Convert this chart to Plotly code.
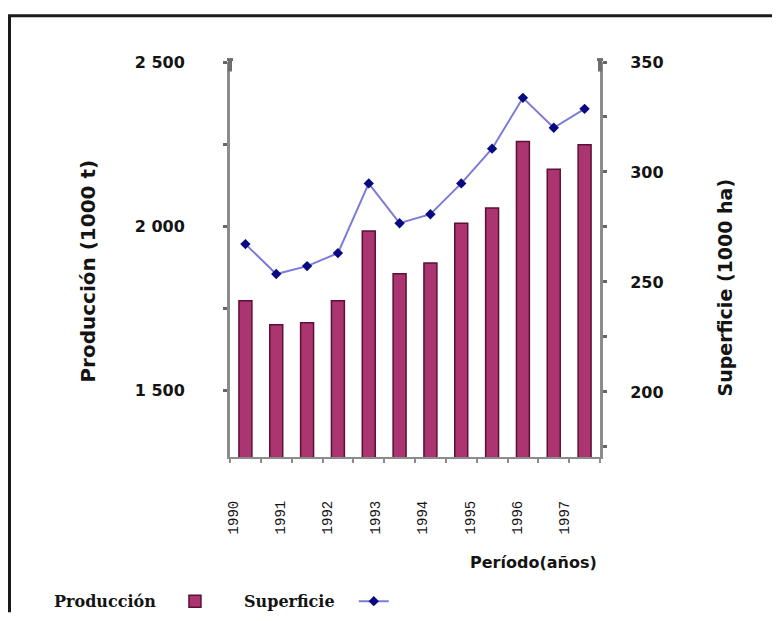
import plotly.graph_objects as go

# ---- data ----
periodo = list(range(1, 13))  # 12 bars / points along the axis
produccion = [1773, 1700, 1706, 1773, 1985, 1855, 1888, 2009, 2055, 2258, 2173, 2248]
superficie = [267.2, 253.6, 257.2, 263.1, 294.8, 276.7, 280.8, 294.8, 310.6, 333.7, 320.1, 328.7]
years = ["1990", "1991", "1992", "1993", "1994", "1995", "1996", "1997"]
prod_ticks = [1500, 2000, 2500]
prod_ticktext = ["1 500", "2 000", "2 500"]
sup_ticks = [200, 250, 300, 350]

AXIS = "#8c8c8c"
CAP = "#6e6e6e"
DARK = "#141414"
SANS = "DejaVu Sans"
SERIF = "DejaVu Serif"

W, H = 780, 621
S = 621 / 637.0  # page -> picture vertical factor


def fx(x):
    return x - 8


def fy(y):
    return y / S - 8


L = round(fx(230))
R = round(W - fx(600))
T = round(fy(60))
B = round(H - fy(457))
PW, PH = W - L - R, H - T - B


def px(xr):
    return (fx(xr) - L) / PW


def py(yr):
    return (H - B - fy(yr)) / PH


fig = go.Figure()
fig.add_trace(go.Bar(
    x=periodo, y=produccion, name="", legend="legend", showlegend=True,
    marker=dict(color="#aa3570", line=dict(color="#5e0f34", width=1.5)),
    yaxis="y", xaxis="x",
))
fig.add_trace(go.Scatter(
    x=periodo, y=superficie, name="", legend="legend2", showlegend=True,
    mode="lines+markers",
    line=dict(color="#7b7bd8", width=2),
    marker=dict(symbol="diamond", size=8, color="#0a0a80"),
    yaxis="y2", xaxis="x",
))
# carrier for the year labels axis
fig.add_trace(go.Scatter(
    x=list(range(len(years))), y=[None] * len(years), xaxis="x2", yaxis="y",
    showlegend=False, hoverinfo="skip", mode="markers",
))

caps = []
for xr in (230, 600):
    caps.append(dict(type="line", xref="paper", yref="paper", x0=px(xr), x1=px(xr),
                     y0=py(58), y1=py(70), line=dict(color=CAP, width=4)))
    caps.append(dict(type="line", xref="paper", yref="paper", x0=px(xr - 3), x1=px(xr + 3),
                     y0=py(58), y1=py(58), line=dict(color=CAP, width=3)))

NB = "\u00a0"

fig.update_layout(
    width=W, height=H,
    margin=dict(l=L, r=R, t=T, b=B),
    plot_bgcolor="white", paper_bgcolor="white",
    bargap=0.58,
    xaxis=dict(
        range=[0.5, 12.5], showline=True, linecolor=AXIS, linewidth=2,
        ticks="outside", tickmode="linear", tick0=0.5, dtick=1, ticklen=4, tickwidth=2,
        tickcolor=AXIS, showticklabels=False, showgrid=False, zeroline=False,
    ),
    xaxis2=dict(
        overlaying="x", anchor="y", side="bottom",
        range=[-0.063, 7.743], tickmode="array", tickvals=list(range(len(years))),
        ticktext=years, tickangle=-90, ticks="", showline=False, showgrid=False,
        zeroline=False, ticklabelstandoff=40,
        tickfont=dict(family="Liberation Mono", size=14, color=DARK),
    ),
    yaxis=dict(
        range=[1297, 2500], tickmode="array", tickvals=prod_ticks, ticktext=prod_ticktext,
        showline=True, linecolor=AXIS, linewidth=3, ticks="outside", ticklen=4, tickwidth=3,
        tickcolor="#666666",
        minor=dict(dtick=250, tick0=0, ticks="outside", ticklen=4, tickwidth=3, tickcolor="#666666"),
        showgrid=False, zeroline=False, ticklabelstandoff=35,
        tickfont=dict(family=SANS, size=16, color=DARK, weight="bold"),
    ),
    yaxis2=dict(
        overlaying="y", side="right", anchor="x",
        range=[170.4, 350], tickmode="array", tickvals=sup_ticks,
        showline=True, linecolor=AXIS, linewidth=3, ticks="outside", ticklen=4, tickwidth=3,
        tickcolor="#666666",
        minor=dict(dtick=25, tick0=0, ticks="outside", ticklen=4, tickwidth=3, tickcolor="#666666"),
        showgrid=False, zeroline=False, ticklabelstandoff=20,
        tickfont=dict(family=SANS, size=16, color=DARK, weight="bold"),
    ),
    legend=dict(
        title=dict(text="Producción" + NB * 2, side="left",
                   font=dict(family=SERIF, size=16, color=DARK, weight="bold")),
        orientation="h", x=px(52), xanchor="left", y=py(603), yanchor="middle",
        bgcolor="rgba(0,0,0,0)",
    ),
    legend2=dict(
        title=dict(text="Superficie" + NB * 2, side="left",
                   font=dict(family=SERIF, size=16, color=DARK, weight="bold")),
        orientation="h", x=px(242), xanchor="left", y=py(603), yanchor="middle",
        bgcolor="rgba(0,0,0,0)",
    ),
    annotations=[
        dict(text="Período(años)", xref="paper", yref="paper", x=px(533), y=py(563),
             showarrow=False, xanchor="center", yanchor="middle",
             font=dict(family=SANS, size=16, color=DARK, weight="bold")),
        dict(text="Producción (1000 t)", xref="paper", yref="paper", x=px(88), y=py(271),
             showarrow=False, xanchor="center", yanchor="middle", textangle=-90,
             font=dict(family=SANS, size=20, color=DARK, weight="bold")),
        dict(text="Superficie (1000 ha)", xref="paper", yref="paper", x=px(725), y=py(287),
             showarrow=False, xanchor="center", yanchor="middle", textangle=-90,
             font=dict(family=SANS, size=19, color=DARK, weight="bold")),
    ],
    shapes=[
        dict(type="line", xref="paper", yref="paper", x0=-L / PW, x1=(W - L) / PW,
             y0=py(14), y1=py(14), line=dict(color="#1a1a1a", width=3)),
        dict(type="line", xref="paper", yref="paper", x0=(1.5 - L) / PW, x1=(1.5 - L) / PW,
             y0=py(14), y1=-B / PH, line=dict(color="#1a1a1a", width=3)),
    ] + caps,
)

fig.write_html("out.html", config={"displayModeBar": False})
